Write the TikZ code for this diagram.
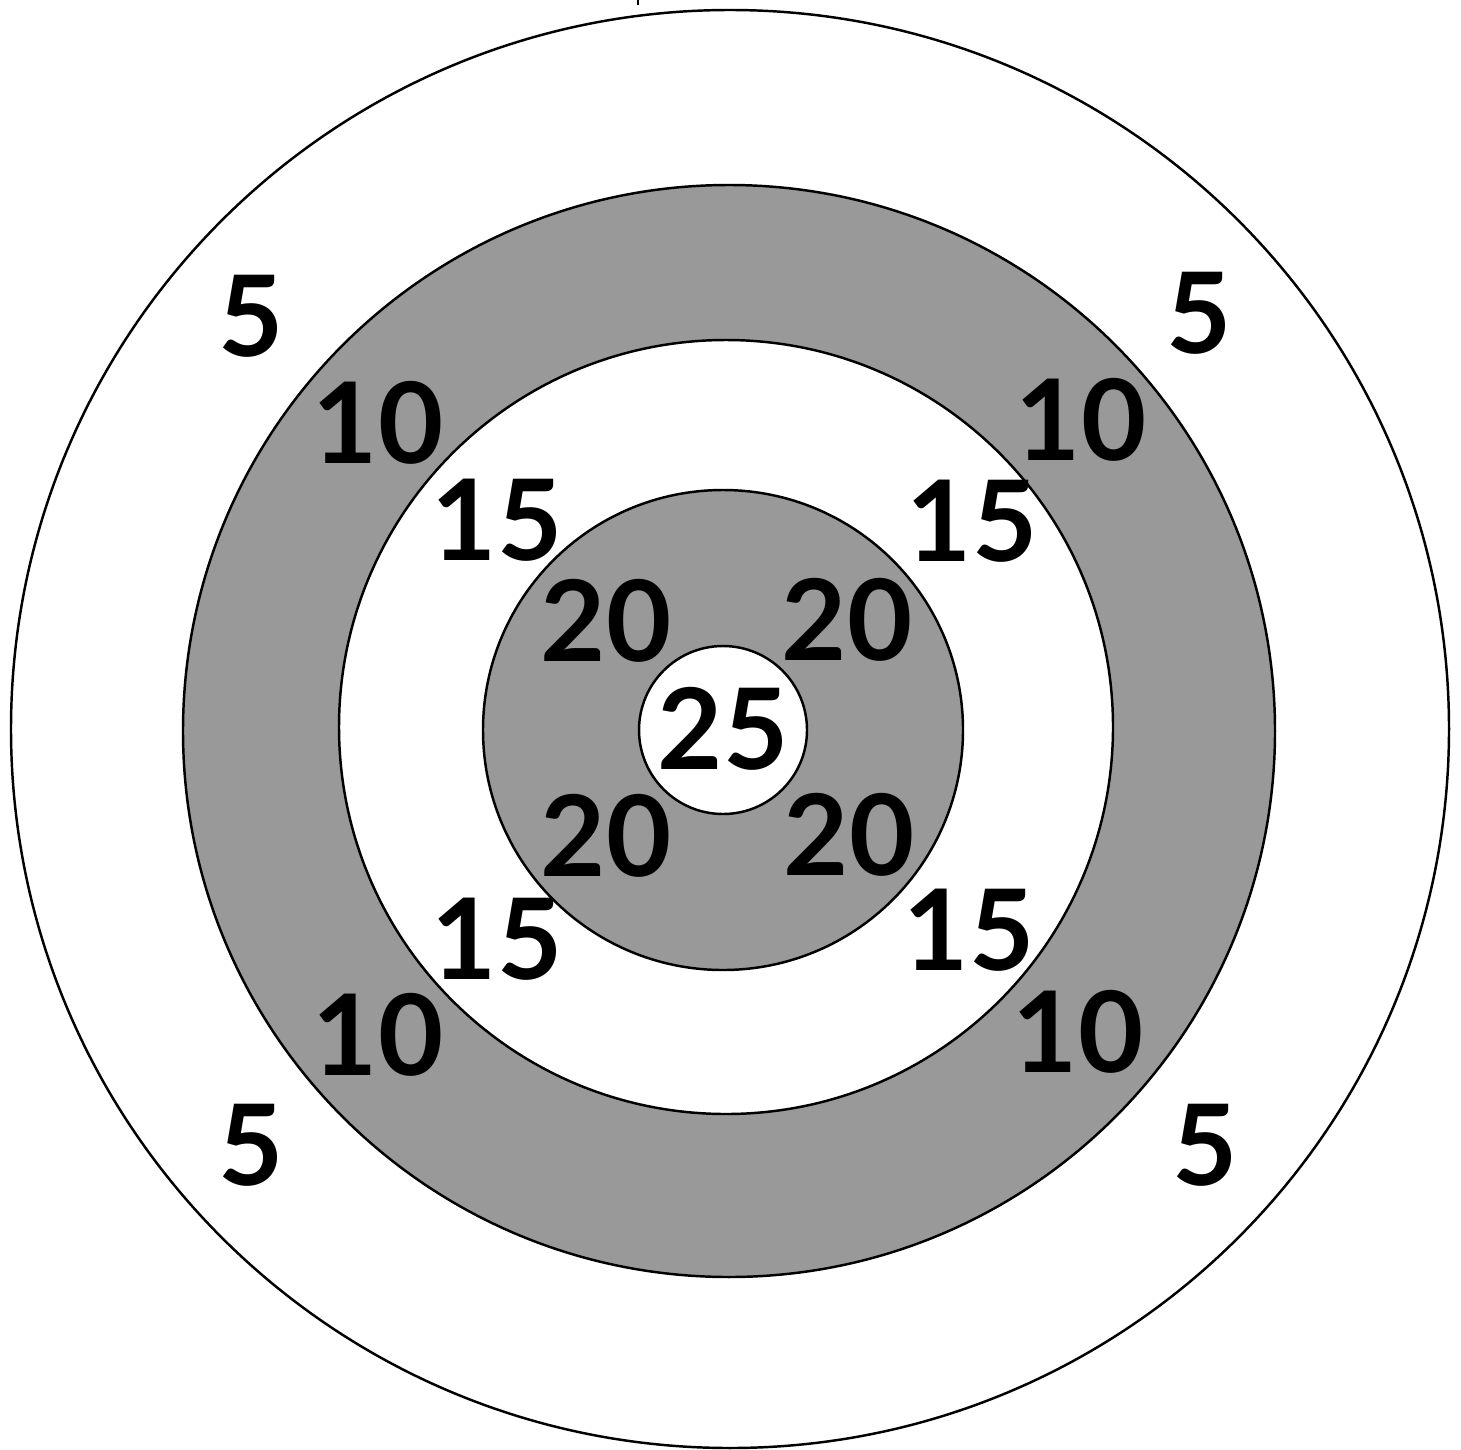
\documentclass[tikz,border=0pt]{standalone}
\usepackage{fontspec}
\setmainfont{Lato}
\usepackage{xcolor}
\usepackage{tikz}
\usetikzlibrary{positioning}

\definecolor{ringgray}{HTML}{999999}

\tikzset{
  ring/.style={draw=black,line width=0.7pt},
  score/.style={inner sep=0pt,font=\fontsize{32}{32}\selectfont\bfseries}
}

\begin{document}
\begin{tikzpicture}
\useasboundingbox (0,0) rectangle (14.61,-14.49);
\coordinate (C1) at (7.30,-7.29);
\coordinate (C2) at (7.29,-7.31);
\coordinate (C3) at (7.26,-7.27);
\coordinate (C4) at (7.23,-7.30);
\coordinate (T1) at (6.38,0);
\coordinate (T2) at (6.38,-0.05);
% rings, from the outside in
\draw[ring,fill=white] (C1) circle (7.19);
\draw[ring,fill=ringgray] (C2) circle (5.46);
\draw[ring,fill=white] (C3) circle (3.87);
\draw[ring,fill=ringgray] (C4) circle (2.40);
\draw[ring,fill=white] (C4) circle (0.84);
\draw[line width=0.7pt] (T1)--(T2);
% scores
\node[score] (s5a) at (2.51,-3.16) {5};
\node[score] (s5b) at (11.99,-3.13) {5};
\node[score] (s5c) at (2.51,-11.45) {5};
\node[score] (s5d) at (12.05,-11.45) {5};
\node[score] (s10a) at (3.78,-4.23) {10};
\node[score] (s10b) at (10.81,-4.20) {10};
\node[score] (s10c) at (3.78,-10.35) {10};
\node[score] (s10d) at (10.78,-10.32) {10};
\node[score] (s15a) at (4.97,-5.20) {15};
\node[score] (s15b) at (9.72,-5.21) {15};
\node[score] (s15c) at (4.97,-9.39) {15};
\node[score] (s15d) at (9.69,-9.30) {15};
\node[score] (s20a) at (6.06,-6.21) {20};
\node[score] (s20b) at (8.47,-6.20) {20};
\node[score] (s20c) at (6.06,-8.36) {20};
\node[score] (s20d) at (8.49,-8.35) {20};
\node[score] (s25) at (7.23,-7.29) {25};
\end{tikzpicture}
\end{document}
